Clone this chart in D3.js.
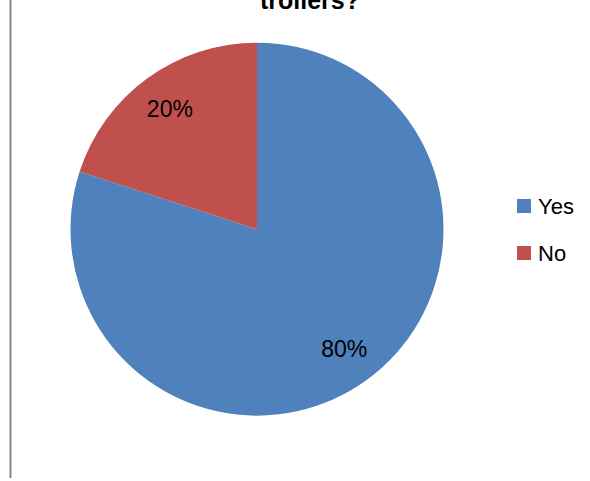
<!DOCTYPE html>
<html>
<head>
<meta charset="utf-8">
<script src="https://cdn.jsdelivr.net/npm/d3@7"></script>
<style>
  html, body { margin: 0; padding: 0; background: #fff; }
  svg { display: block; font-family: "Liberation Sans", Arial, sans-serif; }
</style>
</head>
<body>
<svg id="chart" width="590" height="481"></svg>
<script>
const titleText = "trollers?";
const categories = ["Yes", "No"];
const values = [80, 20];
const colors = ["#4F81BD", "#C0504D"];

const svg = d3.select("#chart");

// frame line on the left
svg.append("line")
  .attr("x1", 10.5).attr("x2", 10.5)
  .attr("y1", 0).attr("y2", 478)
  .attr("stroke", "#868686").attr("stroke-width", 2);

// title (cut off at top, as in the reference)
svg.append("text")
  .attr("x", 310).attr("y", 9)
  .attr("text-anchor", "middle")
  .attr("font-weight", "bold")
  .attr("font-size", 25)
  .attr("fill", "#000")
  .text(titleText);

const cx = 257, cy = 229.2, r = 186.5;
const color = d3.scaleOrdinal().domain(categories).range(colors);

const data = categories.map((c, i) => ({ cat: c, value: values[i] }));
const pie = d3.pie().value(d => d.value).sort(null);
const arcs = pie(data);
const arc = d3.arc().innerRadius(0).outerRadius(r);

const g = svg.append("g").attr("transform", `translate(${cx},${cy})`);
g.selectAll("path").data(arcs).enter().append("path")
  .attr("d", arc)
  .attr("fill", d => color(d.data.cat));

const total = d3.sum(values);
const labelArc = d3.arc().innerRadius(r * 0.795).outerRadius(r * 0.795);
g.selectAll("text.lbl").data(arcs).enter().append("text")
  .attr("class", "lbl")
  .attr("transform", d => {
    const [x, y] = labelArc.centroid(d);
    return `translate(${x},${y})`;
  })
  .attr("text-anchor", "middle")
  .attr("dy", "0.35em")
  .attr("font-size", 23)
  .attr("fill", "#000")
  .text(d => Math.round(d.data.value / total * 100) + "%");

// legend
const legend = svg.append("g").attr("transform", "translate(517,199)");
const item = legend.selectAll("g").data(categories).enter().append("g")
  .attr("transform", (d, i) => `translate(0,${i * 47})`);
item.append("rect").attr("width", 14).attr("height", 14)
  .attr("fill", d => color(d));
item.append("text").attr("x", 21).attr("y", 14.5)
  .attr("font-size", 22).attr("fill", "#000")
  .text(d => d);
</script>
</body>
</html>
